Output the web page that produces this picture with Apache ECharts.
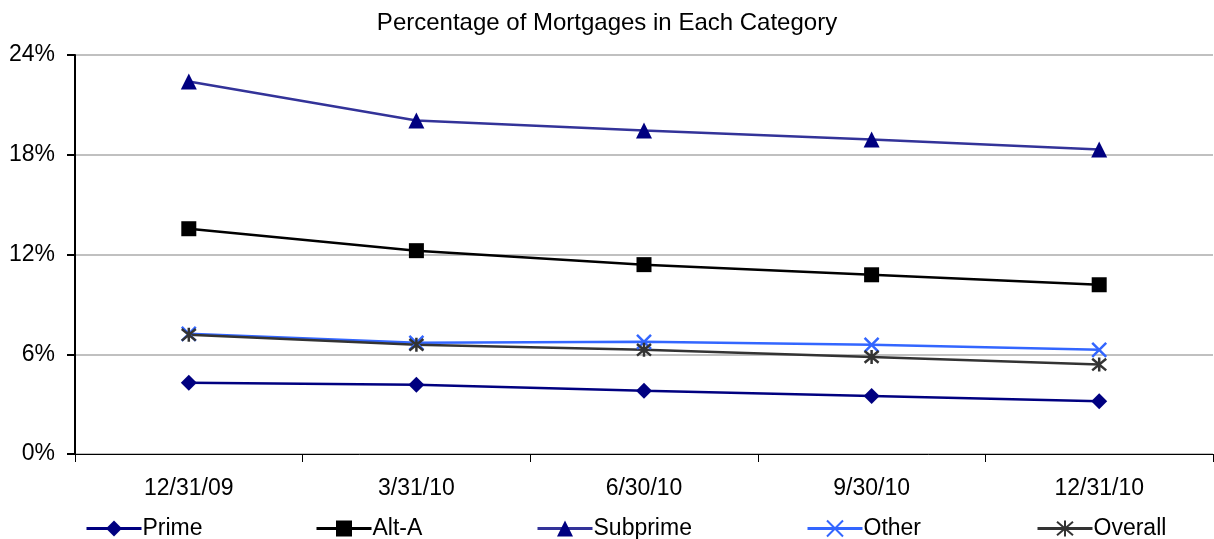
<!DOCTYPE html>
<html><head><meta charset="utf-8">
<script src="https://cdn.jsdelivr.net/npm/echarts@6/dist/echarts.min.js"></script>
<style>html,body{margin:0;padding:0;background:#fff}#c{width:1214px;height:539px}</style>
</head><body><div id="c"></div>
<script>
const categories = ['12/31/09','3/31/10','6/30/10','9/30/10','12/31/10'];
const prime    = [4.28, 4.16, 3.80, 3.49, 3.17];
const altA     = [13.55, 12.23, 11.39, 10.78, 10.18];
const subprime = [22.4, 20.06, 19.46, 18.92, 18.31];
const other    = [7.23, 6.69, 6.75, 6.57, 6.27];
const overall  = [7.17, 6.57, 6.27, 5.84, 5.38];
const yTicks = [0, 6, 12, 18, 24];

const FONT = 'Liberation Sans, Arial, sans-serif';
const xPath = 'path://M0 0 L10 10 M10 0 L0 10';
const starPath = 'path://M0 0 L10 10 M10 0 L0 10 M5 -1 L5 11';

const seriesDefs = [
  {name:'Prime', data:prime, line:'#000080', mk:'#000080', symbol:'diamond', size:16},
  {name:'Alt-A', data:altA, line:'#000000', mk:'#000000', symbol:'rect', size:15},
  {name:'Subprime', data:subprime, line:'#333399', mk:'#000080', symbol:'triangle', size:16},
  {name:'Other', data:other, line:'#3366FF', mk:'#3366FF', symbol:xPath, size:14, stroke:true},
  {name:'Overall', data:overall, line:'#333333', mk:'#333333', symbol:starPath, size:14, stroke:true}
];
const legendLefts = [80, 310, 531, 801, 1031];

const chart = echarts.init(document.getElementById('c'), null, {renderer:'canvas'});
chart.setOption({
  animation:false,
  backgroundColor:'#fff',
  title:{text:'Percentage of Mortgages in Each Category', left:'center', top:6,
    textStyle:{fontFamily:FONT, fontSize:24, fontWeight:'normal', color:'#000'}},
  legend: seriesDefs.map((s,i)=>({
    data:[s.name], left:legendLefts[i], top:512, itemWidth:55, itemHeight:20, itemGap:4,
    lineStyle:{width:3},
    textStyle:{fontFamily:FONT, fontSize:23, color:'#000', padding:[0,0,0,-4]}
  })),
  grid:{left:75, right:1, top:55, bottom:85, containLabel:false},
  xAxis:{type:'category', data:categories, boundaryGap:true,
    axisLine:{lineStyle:{color:'#000', width:1}},
    axisTick:{show:true, length:8, lineStyle:{color:'#000'}},
    axisLabel:{fontFamily:FONT, fontSize:23, color:'#000', margin:23}},
  yAxis:{type:'value', min:yTicks[0], max:yTicks[yTicks.length-1], interval:6,
    axisLine:{show:true, lineStyle:{color:'#000', width:2}},
    axisTick:{show:true, length:8, lineStyle:{color:'#000', width:2}},
    axisLabel:{fontFamily:FONT, fontSize:23, color:'#000', margin:20, formatter:v=>v+'%'},
    splitLine:{lineStyle:{color:'#c0c0c0', width:2}}},
  series: seriesDefs.map(s=>({
    name:s.name, type:'line', data:s.data, symbol:s.symbol, symbolSize:s.size,
    showSymbol:true,
    lineStyle:{color:s.line, width:2.5},
    itemStyle: s.stroke ? {color:'rgba(0,0,0,0)', borderColor:s.mk, borderWidth:2.5}
                        : {color:s.mk, borderColor:s.mk, borderWidth:0}
  }))
});
</script></body></html>
